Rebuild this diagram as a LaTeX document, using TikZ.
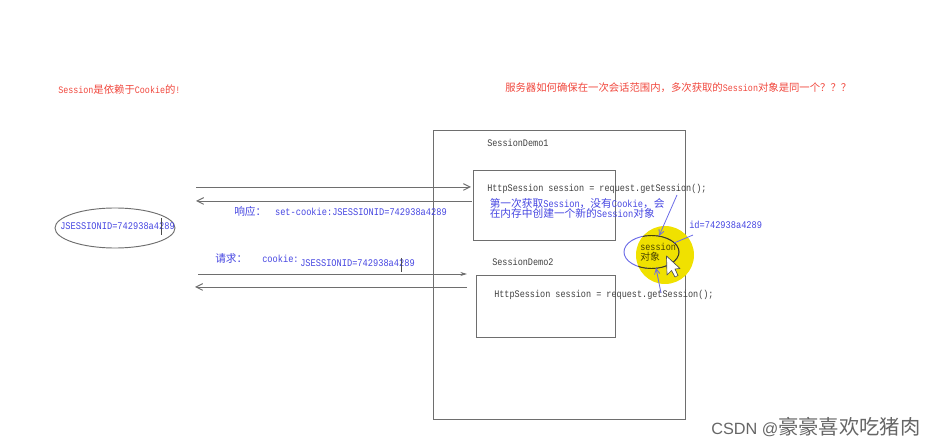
\documentclass[tikz,border=0pt]{standalone}
\usepackage{fontspec}
\usepackage{tikz}
\usepackage{xcolor}
\setmainfont[FakeStretch=0.85]{Liberation Mono}
\newfontfamily\cjk[Scale=1.05]{Noto Sans CJK SC}
\newfontfamily\wmfont{Liberation Sans}
\usetikzlibrary{arrows.meta,calc,positioning,shapes.geometric}
\definecolor{noteblue}{RGB}{70,70,225}
\definecolor{notered}{RGB}{240,70,60}
\definecolor{boxgray}{RGB}{110,110,110}
\definecolor{spotyellow}{RGB}{240,225,0}
\tikzset{
  boxline/.style={draw=boxgray,line width=0.6pt},
  codetxt/.style={font=\fontsize{7.5}{8.5}\selectfont,text=black!75,inner sep=0pt,anchor=west},
  bluetxt/.style={font=\fontsize{7.65}{8.5}\selectfont,text=noteblue,inner sep=0pt,anchor=west},
  redtxt/.style={font=\fontsize{7.4}{8.5}\selectfont,text=notered,inner sep=0pt,anchor=west},
  flowline/.style={draw=boxgray,line width=0.7pt,-{Straight Barb[length=5pt,width=5pt]}},
  noteline/.style={draw=noteblue!80,line width=0.6pt}
}
\begin{document}
\begin{tikzpicture}[x=0.75pt,y=-0.75pt,>=Stealth]
  \useasboundingbox (0,0) rectangle (936,445);
  % 标题
  \node[redtxt] (titleL) at (58,89.5) {Session{\cjk 是依赖于}Cookie{\cjk 的}!};
  \node[redtxt] (titleR) at (505,88) {{\cjk 服务器如何确保在一次会话范围内，多次获取的}Session{\cjk 对象是同一个？？？}};
  % 方框
  \node[boxline,minimum width=189pt,minimum height=216.75pt,inner sep=0pt] (servlet) at (559,274.5) {};
  \node[boxline,minimum width=106.5pt,minimum height=52.5pt,inner sep=0pt] (demoA) at (544,205) {};
  \node[boxline,minimum width=104.25pt,minimum height=46.5pt,inner sep=0pt] (demoB) at (545.5,306) {};
  \node[codetxt] (nameA) at (487,143) {SessionDemo1};
  \node[codetxt] (nameB) at (492,262) {SessionDemo2};
  % 黄色光标
  \node[circle,fill=spotyellow,minimum size=43.5pt,inner sep=0pt] (spot) at (665,255) {};
  \node[ellipse,draw=noteblue!80,line width=0.7pt,minimum width=41.25pt,minimum height=24.75pt,inner sep=0pt] (sessobj) at (651.5,252) {};
  \begin{scope}
    \clip (spot.center) circle (29);
    \draw[black!70!spotyellow,line width=0.7pt] (sessobj.center) ellipse (27.5 and 16.5);
  \end{scope}
  \node[codetxt,text=black!70!spotyellow] (sesstxt) at (640,247) {session};
  \node[codetxt,text=black!70!spotyellow,font=\cjk\fontsize{7}{8}\selectfont] (sessobjtxt) at (640,256.5) {对象};
  % 代码
  \node[codetxt] (codeA) at (487,188.5) {HttpSession session = request.getSession();};
  \node[codetxt] (codeB) at (494,295) {HttpSession session = request.getSession();};
  \node[bluetxt,align=left] (firsttxt) at (489.5,208.5) {{\cjk 第一次获取}Session{\cjk ，没有}Cookie{\cjk ，会}\\[-1pt]{\cjk 在内存中创建一个新的}Session{\cjk 对象}};
  \node[bluetxt] (idtxt) at (689,225) {id=742938a4289};
  % 浏览器
  \node[ellipse,draw=boxgray,line width=0.7pt,minimum width=90pt,minimum height=30pt,inner sep=0pt] (cookiejar) at (115,228) {};
  \node[bluetxt] (jsidA) at (60,226) {JSESSIONID=742938a4289};
  \node[bluetxt] (resptxt) at (234,211) {{\cjk 响应：}\hspace{6.5pt}set-cookie:JSESSIONID=742938a4289};
  \node[bluetxt] (reqtxt) at (215,258.5) {{\cjk 请求：}};
  \node[bluetxt] (cookietxt) at (262,259) {cookie:};
  \node[bluetxt] (jsidB) at (300,263) {JSESSIONID=742938a4289};
  % 箭头
  \coordinate (reqA) at (196,187);
  \coordinate (reqAend) at (471,187);
  \coordinate (respA) at (472,201);
  \coordinate (respAend) at (196,201);
  \coordinate (reqB) at (198,274);
  \coordinate (reqBend) at (467,274);
  \coordinate (respB) at (467,287);
  \coordinate (respBend) at (195,287);
  \draw[flowline] (reqA)--(reqAend);
  \draw[flowline] (respA)--(respAend);
  \draw[flowline,-{Stealth[length=5pt,width=3pt]}] (reqB)--(reqBend);
  \draw[flowline] (respB)--(respBend);
  \coordinate (noteA) at (677,195);
  \coordinate (noteAend) at (659,236);
  \coordinate (noteId) at (693,235);
  \coordinate (noteIdend) at (674,243);
  \coordinate (noteB) at (661,293);
  \coordinate (noteBend) at (656,268);
  \draw[noteline,-{Straight Barb[length=4pt,width=4pt]}] (noteA)--(noteAend);
  \draw[noteline] (noteId)--(noteIdend);
  \draw[noteline,-{Straight Barb[length=4pt,width=4pt]}] (noteB)--(noteBend);
  % 文本光标
  \coordinate (caretA) at (161,218);
  \coordinate (caretAend) at (161,235);
  \coordinate (caretB) at (401,258);
  \coordinate (caretBend) at (401,272);
  \draw[black!70,line width=0.5pt] (caretA)--(caretAend);
  \draw[black!70,line width=0.5pt] (caretB)--(caretBend);
  % 鼠标
  \draw[fill=white,draw=black!70,line width=0.5pt,line join=round] (666.5,256)--(667,275)--(671.5,270.5)--(675,277)--(678,275.5)--(675,269)--(680,268.5)--cycle;
  % 水印
  \node[font=\wmfont\fontsize{12.2}{13}\selectfont,text=black!60,inner sep=0pt,anchor=west] (mark) at (711,427) {CSDN @{\cjk\fontsize{14.5}{15}\selectfont 豪豪喜欢吃猪肉}};
\end{tikzpicture}
\end{document}
